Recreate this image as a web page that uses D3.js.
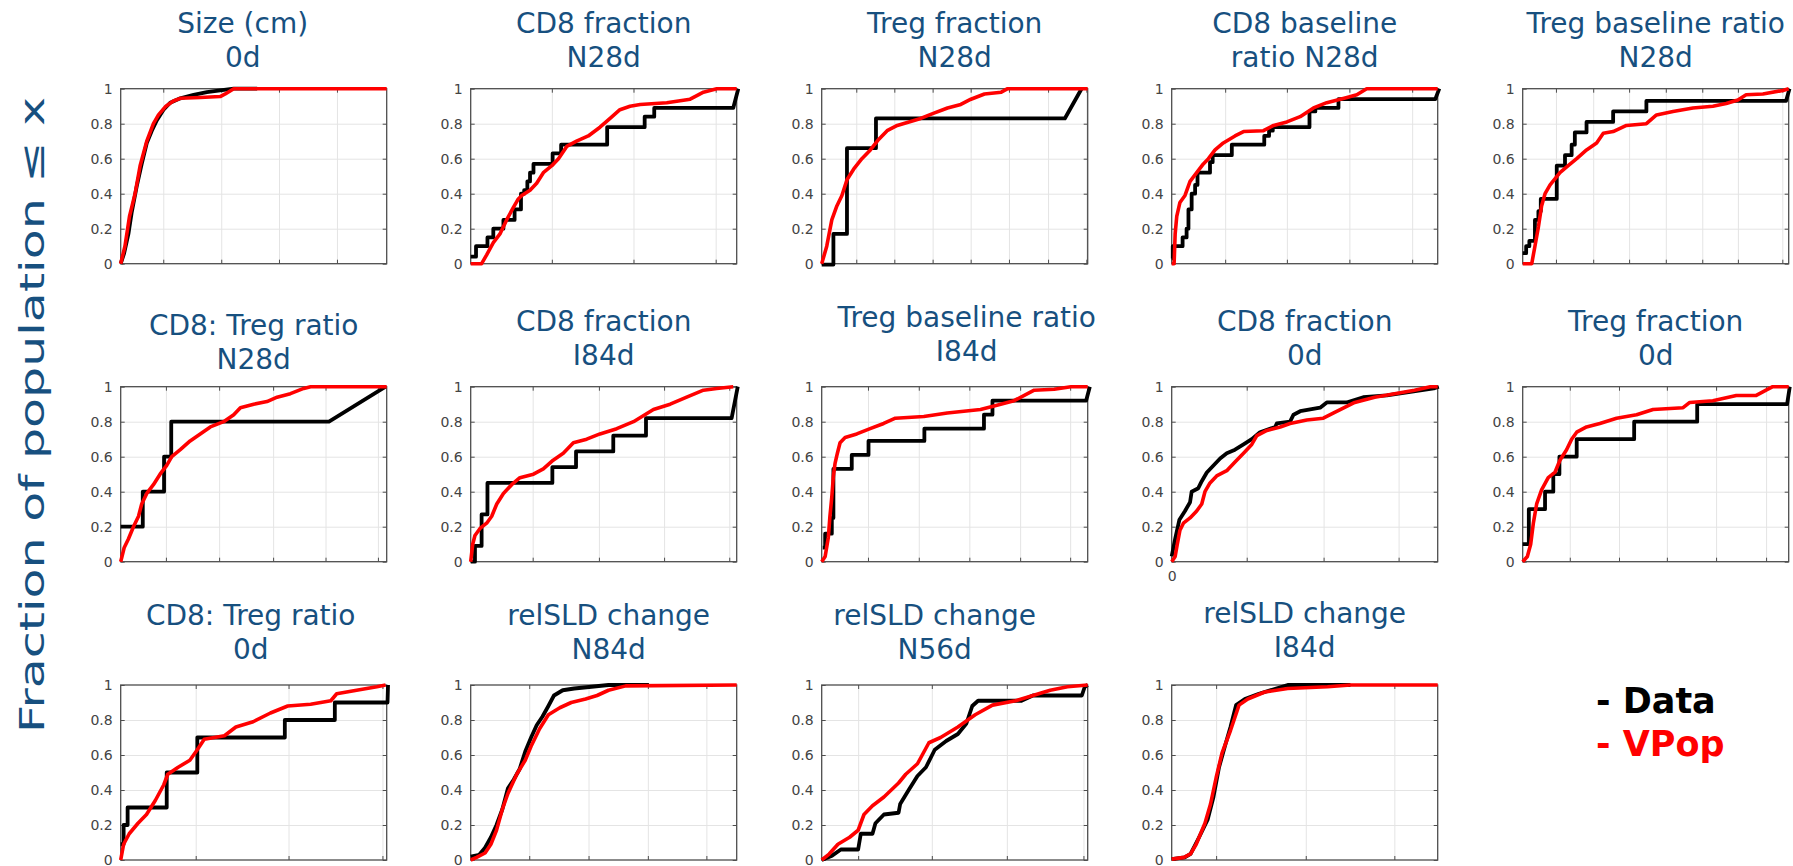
<!DOCTYPE html>
<html>
<head>
<meta charset="utf-8">
<script src="https://cdn.jsdelivr.net/npm/d3@7"></script>
<style>
  body { margin: 0; background: #fff; }
  svg { display: block; font-family: "DejaVu Sans", Verdana, sans-serif; }
</style>
</head>
<body>
<div id="chart"></div>
<script>
// panel titles, two lines each (row by row)
const titles = [
  ["Size (cm)", "0d"], ["CD8 fraction", "N28d"], ["Treg fraction", "N28d"],
  ["CD8 baseline", "ratio N28d"], ["Treg baseline ratio", "N28d"],
  ["CD8: Treg ratio", "N28d"], ["CD8 fraction", "I84d"], ["Treg baseline ratio", "I84d"],
  ["CD8 fraction", "0d"], ["Treg fraction", "0d"],
  ["CD8: Treg ratio", "0d"], ["relSLD change", "N84d"], ["relSLD change", "N56d"],
  ["relSLD change", "I84d"]
];

// y axis ticks (shared)
const yTicks = [0, 0.2, 0.4, 0.6, 0.8, 1];
const yTickLabels = ["0", "0.2", "0.4", "0.6", "0.8", "1"];

// x grid positions, x given in % of the (unlabelled) axis range
const xGrid = [
  [16, 37.8, 59.5, 81.3], [30.5, 61.2, 92.1], [13, 27.3, 41.7, 56, 70.4, 85.1, 99.5],
  [20.1, 43.3, 66.8, 90.4], [12.5, 26.5, 40, 53.8, 67.5, 80.9, 97.6],
  [17, 37, 57.3, 77, 96.7], [23.3, 48.2, 72.7, 97.2], [17.4, 36.5, 55.5, 74.6, 93.4],
  [28.2, 57.1, 85.3], [17.7, 36.2, 54.2, 72.7, 91.5],
  [28.2, 63.1, 98.4], [22, 44.3, 66.6, 88.6], [13.7, 41.4, 69.6, 98.4], [16.7, 50.4, 83.7]
];

// is the Data curve a staircase (last point is joined straight)
const stepped = [false, true, true, true, true, true, true, true, false, true, true, false, false, false];

// Data (black) cumulative curves: [x %, fraction]
const dataCurves = [
  [[0,0],[1.3,0.06],[2.9,0.17],[4.1,0.29],[6,0.44],[7.9,0.57],[9.8,0.69],[11.7,0.76],[13.6,0.82],[16.1,0.88],[18.6,0.92],[22.4,0.945],[27.4,0.965],[32.4,0.98],[37.4,0.99],[42.5,1],[51.3,1]],
  [[0,0.04],[2,0.1],[6.3,0.15],[8.5,0.2],[12.3,0.25],[16.5,0.31],[18.9,0.4],[20.1,0.42],[21.3,0.47],[22.3,0.52],[23.6,0.57],[30.8,0.63],[34,0.68],[51.3,0.78],[65.4,0.84],[69,0.89],[98.7,0.89],[100.6,1]],
  [[0,-0.005],[4.4,0.17],[9.5,0.66],[20.4,0.83],[91.4,0.83],[97.7,1]],
  [[0,0.03],[0.4,0.1],[4.1,0.15],[5.6,0.2],[6.3,0.31],[7.5,0.4],[8.8,0.45],[9.7,0.52],[14.4,0.58],[15.4,0.62],[22.6,0.68],[34.8,0.73],[36.6,0.76],[38,0.78],[51.8,0.87],[54,0.89],[62.7,0.94],[99.1,0.94],[100.6,1]],
  [[0,0.06],[1.3,0.1],[2.5,0.13],[4.6,0.25],[5.9,0.3],[6.8,0.37],[12.8,0.56],[15.9,0.62],[18.4,0.68],[19.6,0.75],[24,0.81],[34,0.87],[46.5,0.93],[99,0.93],[100.3,1]],
  [[0,0.2],[8.3,0.4],[16.3,0.6],[19,0.8],[78.3,0.8],[99.6,1]],
  [[0,0],[1.6,0.09],[4.1,0.27],[6.3,0.45],[30.7,0.54],[39.6,0.63],[53.6,0.72],[65.9,0.82],[98.1,0.82],[100.4,1]],
  [[0.4,0.08],[1.3,0.16],[3.8,0.25],[4.4,0.53],[11.3,0.61],[17.6,0.69],[38.6,0.76],[61,0.84],[64.2,0.92],[99.4,0.92],[100.8,1]],
  [[0,0.03],[1.3,0.13],[2.9,0.24],[5,0.29],[6.9,0.34],[7.5,0.4],[10,0.42],[11.3,0.46],[13.2,0.51],[15.7,0.55],[18.2,0.59],[20.7,0.62],[23.8,0.64],[27,0.67],[30.1,0.7],[33.2,0.74],[38.9,0.77],[39.5,0.79],[44.5,0.8],[45.8,0.84],[48.3,0.86],[55.8,0.88],[58.3,0.91],[65.7,0.91],[72,0.94],[80.9,0.95],[89.7,0.97],[98.5,0.99],[100.4,1]],
  [[0,0.1],[2.3,0.3],[8.4,0.4],[11.5,0.5],[13.8,0.6],[20.3,0.7],[41.9,0.8],[65.6,0.9],[99.4,0.9],[100.4,1]],
  [[0,0.09],[1.1,0.2],[2.6,0.3],[17.3,0.5],[28.8,0.7],[61.7,0.8],[80.5,0.9],[100.3,0.9],[100.5,1]],
  [[0,0.02],[3.2,0.03],[5.4,0.07],[7.6,0.13],[9.7,0.2],[11.9,0.29],[14,0.41],[16.2,0.46],[18.4,0.52],[20.5,0.62],[22.7,0.7],[24.8,0.77],[27,0.82],[29.2,0.88],[31.3,0.94],[34.6,0.97],[38.9,0.98],[45.4,0.99],[51.8,1],[67,1]],
  [[0,0],[3.9,0.025],[7.2,0.06],[13.7,0.06],[14.7,0.15],[19.1,0.15],[20.2,0.21],[23.4,0.26],[28.9,0.27],[29.5,0.32],[32.7,0.4],[36,0.48],[39.2,0.53],[42.5,0.63],[46.8,0.68],[51.2,0.72],[54.4,0.78],[56.6,0.88],[58.8,0.91],[75.1,0.91],[79.4,0.94],[97.8,0.94],[98.9,0.99],[100,1]],
  [[0,0.005],[4.9,0.015],[7.1,0.035],[10.3,0.13],[13.5,0.23],[15.7,0.36],[17.8,0.53],[20,0.65],[22.1,0.76],[24.2,0.885],[27.5,0.92],[32.8,0.95],[39.3,0.98],[43.6,1],[67.2,1]]
];

// VPop (red) cumulative curves: [x %, fraction]
const vpopCurves = [
  [[0,0],[1.6,0.1],[3.3,0.27],[5.4,0.4],[7.3,0.56],[9.8,0.7],[12.3,0.8],[14.2,0.85],[17,0.9],[19.8,0.93],[22.4,0.945],[29.9,0.95],[37.4,0.955],[39.3,0.97],[42.5,1],[100,1]],
  [[0,0],[4.1,0],[6,0.05],[8.5,0.12],[11,0.17],[13.5,0.25],[16,0.32],[17.9,0.37],[19.2,0.39],[22.3,0.42],[24.8,0.46],[27.3,0.52],[30.5,0.56],[33,0.6],[36.1,0.67],[39.8,0.7],[44.2,0.73],[48.6,0.78],[52.4,0.83],[56.1,0.88],[59.9,0.9],[63.7,0.91],[73.7,0.92],[82.5,0.94],[84.3,0.955],[87.5,0.98],[92.5,1],[100,1]],
  [[0,0],[1.9,0.1],[3.8,0.25],[5.7,0.33],[7.6,0.39],[9.5,0.48],[12,0.54],[15.1,0.6],[18.3,0.65],[21.4,0.71],[24.6,0.76],[28.4,0.79],[32.8,0.81],[37.2,0.83],[42.2,0.86],[47.3,0.89],[52.3,0.91],[56.1,0.94],[61.2,0.97],[67.5,0.98],[69.9,1],[100,1]],
  [[0,0],[0.9,0],[1.3,0.17],[1.9,0.27],[3.1,0.35],[5,0.39],[6.9,0.47],[9.4,0.52],[11.9,0.57],[13.8,0.6],[16.3,0.65],[19.4,0.69],[23.8,0.73],[27,0.755],[34.5,0.76],[38.3,0.79],[43.3,0.81],[48.3,0.84],[53.3,0.89],[58.3,0.92],[65.9,0.95],[69.6,0.965],[73.3,1],[100,1]],
  [[0,0],[3.4,0],[4.6,0.1],[5.9,0.21],[7.1,0.33],[8.4,0.4],[10.3,0.45],[14,0.52],[17.1,0.56],[20.3,0.6],[24,0.65],[27.8,0.69],[30.3,0.745],[34,0.755],[39,0.79],[46.5,0.8],[50.3,0.85],[56.5,0.87],[64,0.89],[71.5,0.9],[76.5,0.915],[80.9,0.935],[84,0.965],[90.3,0.97],[97.8,0.99],[100,1]],
  [[0,0],[1.3,0.08],[2.9,0.13],[4.8,0.2],[6.7,0.26],[7.9,0.33],[9.8,0.39],[12.3,0.44],[14.8,0.5],[17.3,0.55],[19.2,0.6],[22.4,0.64],[26.1,0.69],[29.9,0.73],[33.7,0.77],[38.7,0.8],[42.5,0.84],[45,0.88],[50,0.9],[55,0.915],[58.8,0.94],[63.8,0.96],[68.8,0.99],[71.4,1],[100,1]],
  [[0,0],[0.75,0.1],[1.6,0.15],[3.5,0.19],[6,0.22],[7.9,0.26],[9.8,0.33],[12.3,0.39],[15.4,0.44],[18.5,0.48],[23.6,0.5],[27.3,0.53],[31,0.58],[34.8,0.62],[38.6,0.68],[43.6,0.7],[48.6,0.73],[54.9,0.76],[61.2,0.8],[68.7,0.87],[75,0.9],[81.2,0.94],[87.5,0.98],[92.5,0.99],[98.7,1]],
  [[0,0],[1.3,0.03],[2.5,0.14],[3.1,0.26],[3.8,0.37],[4.4,0.49],[5,0.56],[5.9,0.62],[6.9,0.68],[8.8,0.71],[13.2,0.73],[18.2,0.76],[23.3,0.79],[27.7,0.82],[38.4,0.83],[47.2,0.85],[59.7,0.87],[64.8,0.89],[72.3,0.92],[79.9,0.98],[87.4,0.985],[93.7,1],[100,1]],
  [[0,0],[1.3,0.03],[2.1,0.1],[3.1,0.18],[4.4,0.22],[6.9,0.25],[9.4,0.29],[11.3,0.33],[12.5,0.4],[14.4,0.45],[16.9,0.49],[20.7,0.52],[23.8,0.57],[27,0.62],[30.1,0.67],[32,0.72],[35.8,0.75],[40.8,0.77],[44.5,0.79],[50.8,0.81],[57,0.82],[60.9,0.85],[68.8,0.91],[76.3,0.94],[83.8,0.96],[91.3,0.98],[97.2,1],[100,1]],
  [[0,0],[1.75,0.03],[3,0.1],[4,0.22],[5.25,0.33],[7.1,0.41],[9.6,0.48],[12.1,0.51],[14,0.58],[16.5,0.64],[18.4,0.7],[20.3,0.74],[24,0.77],[29,0.79],[35.3,0.82],[42.8,0.84],[49,0.87],[60.3,0.88],[62.8,0.91],[71.5,0.92],[80.3,0.95],[87.8,0.95],[91.5,0.98],[94,1],[100,1]],
  [[0,0],[1.1,0.09],[3.2,0.15],[6.5,0.21],[9.7,0.26],[13,0.34],[16.2,0.43],[17.7,0.49],[21.6,0.53],[26,0.57],[28.8,0.63],[31.4,0.69],[39,0.71],[43.3,0.76],[49.8,0.79],[56.3,0.84],[62.8,0.88],[71.4,0.89],[79,0.91],[81.2,0.95],[88.7,0.97],[96.3,0.99],[99.6,1]],
  [[0,0],[2.2,0.015],[5.4,0.04],[7.6,0.09],[9.7,0.17],[11.9,0.29],[14,0.38],[17.3,0.49],[20.5,0.57],[22.7,0.65],[25.9,0.75],[29.2,0.83],[33.5,0.87],[37.8,0.9],[43.2,0.92],[47.5,0.94],[51.8,0.97],[58.3,0.995],[100,1]],
  [[0,0],[2.8,0.034],[6.1,0.09],[10.5,0.13],[13.7,0.17],[15.9,0.26],[19.1,0.31],[23.4,0.36],[28.9,0.44],[31.6,0.49],[36,0.55],[40.3,0.67],[44.7,0.7],[51.2,0.76],[57.7,0.83],[64.2,0.885],[72.9,0.91],[79.4,0.94],[85.9,0.97],[92.4,0.99],[100,1]],
  [[0,0.005],[4.6,0.015],[7.1,0.035],[9.2,0.09],[12.5,0.21],[14.6,0.32],[16.7,0.47],[18.9,0.61],[22.1,0.74],[25.3,0.885],[28.6,0.92],[35,0.96],[43.6,0.98],[58.6,0.99],[67.2,1],[100,1]]
];

const legendLabels = ["- Data", "- VPop"];
const yLabel = "Fraction of population \u2264 x";

// layout
const colLeft = [120.7, 470.7, 821.7, 1171.7, 1522.7];
const rowTop = [88.7, 386.7, 685];
const pw = 266, ph = 175;
const titleBase = [[33.3, 66.5], [331, 365], [625, 659]];
const titleShift = [[-11,0],[0,0],[0,0],[0,0],[0,0],[0,4],[0,0],[12,-4],[0,0],[0,0],[-3,0],[5,0],[-20,0],[0,-2]];
const titleColor = "#17507f";

const svg = d3.select("#chart").append("svg")
  .attr("width", 1793)
  .attr("height", 866);

const x = d3.scaleLinear().domain([0, 100]).range([0, pw]);
const y = d3.scaleLinear().domain([0, 1]).range([ph, 0]);
const line = d3.line().x(d => x(d[0])).y(d => y(d[1]));
const stepLine = d3.line().x(d => x(d[0])).y(d => y(d[1])).curve(d3.curveStepAfter);

function curvePath(pts, isStep) {
  if (!isStep) return line(pts);
  const last = pts[pts.length - 1];
  return stepLine(pts.slice(0, -1)) + `L${x(last[0])},${y(last[1])}`;
}

function drawPanel(i) {
  const row = i < 5 ? 0 : i < 10 ? 1 : 2;
  const col = i < 5 ? i : i < 10 ? i - 5 : i - 10;
  const left = colLeft[col], top = rowTop[row];
  const g = svg.append("g").attr("transform", `translate(${left},${top})`);

  // grid
  g.append("g")
    .attr("transform", `translate(0,${ph})`)
    .call(d3.axisBottom(x).tickValues(xGrid[i]).tickSize(-ph).tickFormat(""))
    .call(a => a.select(".domain").remove())
    .call(a => a.selectAll("line").attr("stroke", "#e4e4e4"));
  g.append("g")
    .call(d3.axisLeft(y).tickValues(yTicks.slice(1, -1)).tickSize(-pw).tickFormat(""))
    .call(a => a.select(".domain").remove())
    .call(a => a.selectAll("line").attr("stroke", "#e4e4e4"));

  // frame
  g.append("rect")
    .attr("width", pw).attr("height", ph)
    .attr("fill", "none").attr("stroke", "#4d4d4d").attr("stroke-width", 1.3);

  // inward ticks and y labels
  g.append("g")
    .call(d3.axisLeft(y).tickValues(yTicks).tickSizeInner(-4).tickSizeOuter(0).tickPadding(8)
      .tickFormat((d, k) => yTickLabels[k]))
    .call(a => a.select(".domain").remove())
    .call(a => a.selectAll("line").attr("stroke", "#4d4d4d"))
    .call(a => a.selectAll("text").attr("fill", "#444").style("font-size", "14px")
      .style("font-family", '"DejaVu Sans", Verdana, sans-serif'));
  g.append("g")
    .attr("transform", `translate(${pw},0)`)
    .call(d3.axisRight(y).tickValues(yTicks).tickSizeInner(-4).tickSizeOuter(0).tickFormat(""))
    .call(a => a.select(".domain").remove())
    .call(a => a.selectAll("line").attr("stroke", "#4d4d4d"));
  g.append("g")
    .attr("transform", `translate(0,${ph})`)
    .call(d3.axisBottom(x).tickValues(xGrid[i]).tickSizeInner(-4).tickSizeOuter(0).tickFormat(""))
    .call(a => a.select(".domain").remove())
    .call(a => a.selectAll("line").attr("stroke", "#4d4d4d"));
  g.append("g")
    .call(d3.axisTop(x).tickValues(xGrid[i]).tickSizeInner(-4).tickSizeOuter(0).tickFormat(""))
    .call(a => a.select(".domain").remove())
    .call(a => a.selectAll("line").attr("stroke", "#4d4d4d"));

  // only one panel shows the x origin
  if (i === 8) {
    g.append("g")
      .attr("transform", `translate(0,${ph})`)
      .call(d3.axisBottom(x).tickValues([0]).tickSize(0).tickPadding(9).tickFormat(() => "0"))
      .call(a => a.select(".domain").remove())
      .call(a => a.selectAll("text").attr("fill", "#444").style("font-size", "14px")
        .style("font-family", '"DejaVu Sans", Verdana, sans-serif'));
  }

  // curves
  g.append("path")
    .attr("d", curvePath(dataCurves[i], stepped[i]))
    .attr("fill", "none").attr("stroke", "#000")
    .attr("stroke-width", 3.8).attr("stroke-linejoin", "round");
  g.append("path")
    .attr("d", line(vpopCurves[i]))
    .attr("fill", "none").attr("stroke", "#ff0000")
    .attr("stroke-width", 3.6).attr("stroke-linejoin", "round");

  // title
  titles[i].forEach((t, k) => {
    svg.append("text")
      .attr("x", left + pw / 2 + titleShift[i][0])
      .attr("y", titleBase[row][k] + titleShift[i][1])
      .attr("text-anchor", "middle")
      .attr("fill", titleColor)
      .style("font-size", "28px")
      .text(t);
  });
}

titles.forEach((t, i) => drawPanel(i));

// shared y label
svg.append("text")
  .attr("transform", "translate(44,733) rotate(-90)")
  .attr("fill", titleColor)
  .attr("textLength", 636)
  .attr("lengthAdjust", "spacingAndGlyphs")
  .style("font-size", "34px")
  .text(yLabel);

// legend
svg.append("text")
  .attr("x", 1596).attr("y", 713)
  .attr("fill", "#000")
  .style("font-size", "35px").style("font-weight", "bold")
  .text(legendLabels[0]);
svg.append("text")
  .attr("x", 1596).attr("y", 756)
  .attr("fill", "#ff0000")
  .style("font-size", "35px").style("font-weight", "bold")
  .text(legendLabels[1]);
</script>
</body>
</html>
